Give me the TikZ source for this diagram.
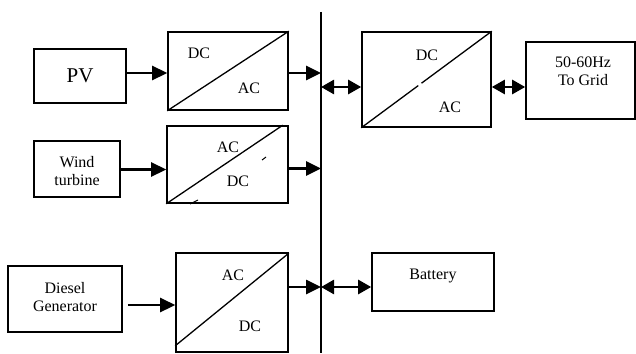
\documentclass[tikz,border=0pt]{standalone}
\usepackage{fontspec}
\setmainfont{Liberation Serif}
\usetikzlibrary{arrows.meta, positioning}

\tikzset{
  blk/.style={draw, line width=1.6pt, inner sep=0pt, align=center},
  lbl/.style={inner sep=0pt, align=center},
  diag/.style={line width=1.3pt},
  flow/.style={line width=2.6pt, -{Triangle[length=15pt, width=14pt]}},
  biflow/.style={line width=2.6pt, {Triangle[length=13pt, width=14pt]}-{Triangle[length=13pt, width=14pt]}}
}

\begin{document}
\begin{tikzpicture}[x=1pt, y=-1pt, font=\fontsize{16}{18}\selectfont]
\useasboundingbox (0,0) rectangle (636,353);

% sources
\node[blk, minimum width=92pt, minimum height=54pt, font=\fontsize{21}{24}\selectfont] (pv) at (80,76) {PV};
\node[blk, minimum width=86pt, minimum height=56pt] (wind) at (77,169) {};
\node[lbl] (windtxt) at (77,171) {Wind\\turbine};
\node[blk, minimum width=114pt, minimum height=66pt] (diesel) at (65,299) {};
\node[lbl] (dieseltxt) at (65,297) {Diesel\\Generator};

% converters
\node[blk, minimum width=120pt, minimum height=78pt] (c1) at (228,71) {};
\draw[diag] (c1.south west) -- (c1.north east);
\node[lbl] (c1dc) at (199,53) {DC};
\node[lbl] (c1ac) at (249,88) {AC};

\node[blk, minimum width=121pt, minimum height=77pt] (c2) at (227.5,164.5) {};
\draw[diag] (c2.south west) -- ([xshift=-6pt]c2.north east);
\draw[line width=1pt] (262,160) -- (266,157);
\draw[line width=1pt] (190,204) -- (198,200);
\node[lbl] (c2ac) at (228,147) {AC};
\node[lbl] (c2dc) at (238,181) {DC};

\node[blk, minimum width=112pt, minimum height=99pt] (c3) at (232,302.5) {};
\draw[diag] ([yshift=7pt]c3.south west) -- ([yshift=-1pt]c3.north east);
\node[lbl] (c3ac) at (233,275) {AC};
\node[lbl] (c3dc) at (250,326) {DC};

\node[blk, minimum width=129pt, minimum height=95pt] (cr) at (426.5,79.5) {};
\draw[diag, dash pattern=on 71pt off 4pt on 120pt] (cr.south west) -- (cr.north east);
\node[lbl] (crdc) at (427,55) {DC};
\node[lbl] (crac) at (450,107) {AC};

% grid and storage
\node[blk, minimum width=109pt, minimum height=77pt] (grid) at (580.5,80.5) {};
\node[lbl] (gridtxt) at (583,71) {50-60Hz\\To Grid};
\node[blk, minimum width=122pt, minimum height=58pt] (bat) at (433,282) {};
\node[lbl] (battxt) at (433,276) {Battery};

% bus
\coordinate (bustop) at (321,12);
\coordinate (busbot) at (321,353);
\draw[line width=1.5pt] (bustop) -- (busbot);

% connections
\draw[flow] ([yshift=-2pt]c1.west -| pv.east) -- ([yshift=-2pt]c1.west);
\draw[flow] ([yshift=-2pt]c1.east) -- ([yshift=-2pt]c1.east -| bustop);
\draw[flow] ([yshift=-5pt]c2.west -| wind.east) -- ([yshift=-5pt]c2.west);
\draw[flow] ([yshift=-4pt]c2.east) -- ([yshift=-4pt]c2.east -| bustop);
\draw[flow] ([xshift=5pt,yshift=-6pt]diesel.east) -- ([yshift=-6pt]diesel.east -| c3.west);
\draw[flow] ([yshift=-5pt]bat.west -| c3.east) -- ([yshift=-5pt]bat.west -| bustop);
\draw[biflow] ([yshift=-5pt]bat.west -| bustop) -- ([yshift=-5pt]bat.west);
\draw[biflow] ([yshift=-7.5pt]cr.west -| bustop) -- ([yshift=-7.5pt]cr.west);
\draw[biflow] ([yshift=-7.5pt]cr.east) -- ([yshift=-7.5pt]cr.east -| grid.west);
\end{tikzpicture}
\end{document}
